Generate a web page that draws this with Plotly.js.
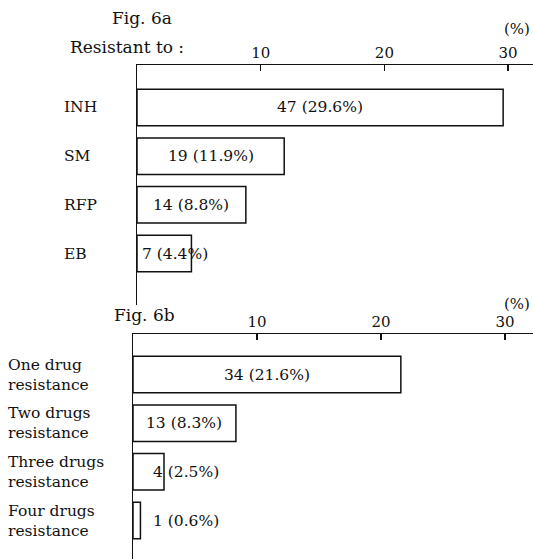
<!DOCTYPE html>
<html><head><meta charset="utf-8">
<script src="https://cdn.plot.ly/plotly-3.0.1.min.js"></script>
<style>html,body{margin:0;padding:0;background:#fff}</style>
</head><body><div id="chart" style="width:533px;height:559px"></div>
<script>
// ---- data ----
const drugs = ['INH', 'SM', 'RFP', 'EB'];
const drugCounts = [47, 19, 14, 7];
const drugPercents = [29.6, 11.9, 8.8, 4.4];

const combos = ['One drug<br>resistance', 'Two drugs<br>resistance', 'Three drugs<br>resistance', 'Four drugs<br>resistance'];
const comboCounts = [34, 13, 4, 1];
const comboPercents = [21.6, 8.3, 2.5, 0.6];

const tickValues = [10, 20, 30];
const tickLabels = ['10', '20', '30'];

// ---- style ----
const FONT = 'DejaVu Serif, Liberation Serif, serif';
const INK = '#111';
const W = 533, H = 559;
const px = v => v / W;
const py = v => 1 - v / H;

function barTrace(cats, vals, xa, ya) {
  return {
    type: 'bar', orientation: 'h', y: cats, x: vals, xaxis: xa, yaxis: ya,
    width: 0.75, marker: {color: '#fff', line: {color: INK, width: 1.5}},
    hoverinfo: 'skip', showlegend: false
  };
}

function valueNotes(cats, counts, pcts, xref, yref, smallShift) {
  return cats.map((c, i) => {
    const big = pcts[i] >= 6;
    return {
      xref: xref, yref: yref, y: c, yanchor: 'middle',
      x: big ? pcts[i] / 2 : 0,
      xanchor: big ? 'center' : 'left',
      xshift: big ? 0 : smallShift,
      text: counts[i] + ' (' + pcts[i].toFixed(1) + '%)',
      showarrow: false, font: {family: FONT, size: 15.5, color: INK}
    };
  });
}

function xAxis(domainStart, range, anchor) {
  return {
    domain: [domainStart, 1], range: range, anchor: anchor, side: 'top',
    showline: true, linecolor: INK, linewidth: 1.5,
    ticks: 'inside', ticklen: 6, tickwidth: 1.5, tickcolor: INK,
    tickvals: tickValues, ticktext: tickLabels,
    showgrid: false, zeroline: false,
    tickfont: {family: FONT, size: 15, color: INK}
  };
}

function yAxis(domain, range, anchor) {
  return {
    domain: domain, range: range, anchor: anchor, type: 'category',
    showline: true, linecolor: INK, linewidth: 1.5,
    showticklabels: false, ticks: '', showgrid: false, zeroline: false
  };
}

function note(x, y, text, size, xanchor) {
  return {xref: 'paper', yref: 'paper', x: px(x), y: py(y), xanchor: xanchor || 'left', yanchor: 'middle',
    text: text, showarrow: false, font: {family: FONT, size: size, color: INK}};
}

const data = [
  barTrace(drugs, drugPercents, 'x', 'y'),
  barTrace(combos, comboPercents, 'x2', 'y2')
];

const annotations = [].concat(
  valueNotes(drugs, drugCounts, drugPercents, 'x', 'y', 3),
  valueNotes(combos, comboCounts, comboPercents, 'x2', 'y2', 18),
  drugs.map(d => ({xref: 'paper', yref: 'y', x: px(62), y: d, xanchor: 'left', yanchor: 'middle', text: d,
    showarrow: false, font: {family: FONT, size: 15.5, color: INK}})),
  combos.map(d => ({xref: 'paper', yref: 'y2', x: px(6), y: d, xanchor: 'left', yanchor: 'middle', align: 'left', text: d,
    showarrow: false, font: {family: FONT, size: 15.5, color: INK}})),
  [
    note(110, 18, 'Fig. 6a', 17),
    note(68, 47, 'Resistant to :', 17),
    note(517, 29, '(%)', 15, 'center'),
    note(112, 315, 'Fig. 6b', 17),
    note(517, 304, '(%)', 15, 'center')
  ]
);

const layout = {
  width: W, height: H,
  margin: {l: 0, r: 0, t: 0, b: 0},
  paper_bgcolor: '#fff', plot_bgcolor: '#fff',
  showlegend: false,
  xaxis: xAxis(px(137), [0, (W - 137) / 12.37], 'y'),
  yaxis: yAxis([py(305), py(65)], [4.057, -0.873], 'x'),
  xaxis2: xAxis(px(133), [0, (W - 133) / 12.4], 'y2'),
  yaxis2: yAxis([0, py(334)], [3.79, -0.832], 'x2'),
  annotations: annotations
};

Plotly.newPlot('chart', data, layout, {displayModeBar: false, staticPlot: true});
</script>
</body></html>
